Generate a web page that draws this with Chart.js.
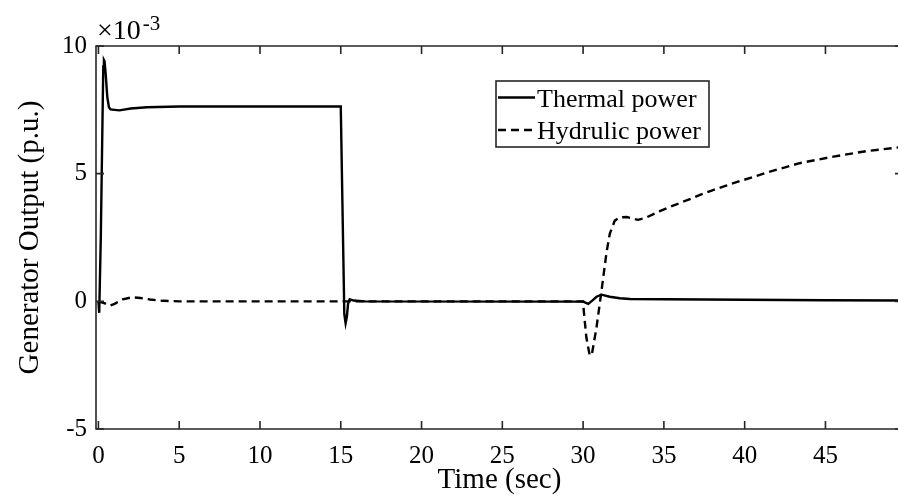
<!DOCTYPE html>
<html>
<head>
<meta charset="utf-8">
<script src="https://cdn.jsdelivr.net/npm/chart.js@4.4.1/dist/chart.umd.min.js"></script>
<style>
  html, body { margin: 0; padding: 0; background: #fff; overflow: hidden; }
  #wrap { width: 898px; height: 498px; overflow: hidden; position: relative; }
  canvas { display: block; }
</style>
</head>
<body>
<div id="wrap"><canvas id="c" width="906" height="498"></canvas></div>
<script>
// ---- Data (values in units of 1e-3 p.u.) ----
const xTicks = [0, 5, 10, 15, 20, 25, 30, 35, 40, 45];
const yTicks = [-5, 0, 5, 10];
const yExponentLabel = ['\u00d710', '-3'];

const thermalLabel = 'Thermal power';
const thermalTime = [0, 0.05, 0.15, 0.3, 0.34, 0.38, 0.45, 0.55, 0.65, 0.75, 1.0, 1.3, 2, 3, 5, 15.0, 15.22, 15.3, 15.38, 15.45, 15.55, 15.8, 16.5, 30.0, 30.32, 30.6, 30.83, 31.14, 31.65, 32.27, 32.9, 35, 40, 45, 49.8];
const thermalValue = [0, -0.45, 2.6, 9.2, 9.45, 9.4, 8.9, 8.0, 7.6, 7.52, 7.5, 7.48, 7.55, 7.6, 7.63, 7.63, -0.5, -0.86, -0.6, -0.1, 0.08, 0.03, 0, -0.01, -0.1, 0.05, 0.18, 0.26, 0.18, 0.12, 0.09, 0.08, 0.06, 0.04, 0.03];

const hydroLabel = 'Hydrulic power';
const hydroTime = [0, 0.4, 0.7, 1.0, 1.5, 2.1, 2.6, 3.2, 4, 5, 30.0, 30.04, 30.2, 30.41, 30.55, 30.83, 31.14, 31.45, 31.65, 31.96, 32.27, 32.7, 33.4, 33.9, 34.75, 35.57, 36.4, 37.2, 38.0, 38.9, 39.7, 40.5, 41.35, 43.4, 45.5, 47.5, 49.8];
const hydroValue = [0, -0.08, -0.17, -0.1, 0.08, 0.16, 0.13, 0.07, 0.02, 0, 0, -0.36, -1.41, -2.13, -2.05, -1.02, 0.42, 1.92, 2.64, 3.16, 3.29, 3.3, 3.19, 3.28, 3.53, 3.75, 3.95, 4.16, 4.35, 4.54, 4.71, 4.86, 5.04, 5.41, 5.67, 5.88, 6.05];

const xTitle = 'Time (sec)';
const yTitle = 'Generator Output (p.u.)';

// ---- Styles ----
const SERIF = '"Liberation Serif", "Times New Roman", serif';
const AXIS = '#262626';

function pts(t, v) { return t.map((x, i) => ({ x: x, y: v[i] })); }

const boxPlugin = {
  id: 'matlabBox',
  afterDatasetsDraw(chart) {
    const { ctx, chartArea: a, scales: { x, y } } = chart;
    const tl = 8;
    ctx.save();
    ctx.strokeStyle = AXIS;
    ctx.lineWidth = 1.6;
    ctx.beginPath();
    ctx.rect(a.left, a.top, a.right - a.left, a.bottom - a.top);
    ctx.stroke();
    ctx.beginPath();
    xTicks.forEach(v => {
      const px = x.getPixelForValue(v);
      ctx.moveTo(px, a.bottom); ctx.lineTo(px, a.bottom - tl);
      ctx.moveTo(px, a.top); ctx.lineTo(px, a.top + tl);
    });
    yTicks.forEach(v => {
      const py = y.getPixelForValue(v);
      ctx.moveTo(a.left, py); ctx.lineTo(a.left + tl, py);
      ctx.moveTo(a.right, py); ctx.lineTo(a.right - tl, py);
    });
    ctx.stroke();

    // exponent label
    ctx.fillStyle = '#000';
    ctx.textAlign = 'left';
    ctx.textBaseline = 'alphabetic';
    ctx.font = '28px ' + SERIF;
    ctx.fillText(yExponentLabel[0], a.left + 1, 39);
    const w = ctx.measureText(yExponentLabel[0]).width;
    ctx.font = '21px ' + SERIF;
    ctx.fillText(yExponentLabel[1], a.left + 1 + w + 2, 30);

    // legend
    const lx = 496, ly = 81, lw = 213, lh = 66;
    ctx.fillStyle = '#fff';
    ctx.fillRect(lx, ly, lw, lh);
    ctx.strokeStyle = AXIS;
    ctx.lineWidth = 1.6;
    ctx.strokeRect(lx, ly, lw, lh);
    const rows = [97.5, 130];
    chart.data.datasets.forEach((ds, i) => {
      ctx.save();
      ctx.strokeStyle = ds.borderColor;
      ctx.lineWidth = ds.borderWidth;
      ctx.setLineDash(ds.borderDash || []);
      ctx.beginPath();
      ctx.moveTo(lx + 2, rows[i]);
      ctx.lineTo(lx + 39, rows[i]);
      ctx.stroke();
      ctx.restore();
      ctx.fillStyle = '#000';
      ctx.font = '26px ' + SERIF;
      ctx.textAlign = 'left';
      ctx.textBaseline = 'alphabetic';
      ctx.fillText(ds.label, lx + 41, rows[i] + 9);
    });
    ctx.restore();
  }
};

new Chart(document.getElementById('c'), {
  type: 'line',
  data: {
    datasets: [
      { label: thermalLabel, data: pts(thermalTime, thermalValue), borderColor: '#000', borderWidth: 2.4, pointRadius: 0, tension: 0, fill: false },
      { label: hydroLabel, data: pts(hydroTime, hydroValue), borderColor: '#000', borderWidth: 2.4, borderDash: [8, 5], pointRadius: 0, tension: 0, fill: false }
    ]
  },
  options: {
    responsive: false,
    animation: false,
    events: [],
    layout: { padding: { left: 0, top: 46, right: 3, bottom: 0 } },
    plugins: { legend: { display: false }, tooltip: { enabled: false } },
    scales: {
      x: {
        type: 'linear', min: -0.15, max: 49.8,
        afterBuildTicks: s => { s.ticks = xTicks.map(v => ({ value: v })); },
        afterFit: s => { s.height = 69; },
        grid: { display: false, drawTicks: false },
        border: { display: false },
        ticks: { color: '#000', font: { family: SERIF, size: 25 }, padding: 12, maxRotation: 0, autoSkip: false },
        title: { display: true, text: xTitle, color: '#000', font: { family: SERIF, size: 29 }, padding: { top: 0, bottom: 0 } }
      },
      y: {
        type: 'linear', min: -5, max: 10,
        afterBuildTicks: s => { s.ticks = yTicks.map(v => ({ value: v })); },
        afterFit: s => { s.width = 96; },
        grid: { display: false, drawTicks: false },
        border: { display: false },
        ticks: { color: '#000', font: { family: SERIF, size: 25 }, padding: 9, autoSkip: false },
        title: { display: true, text: yTitle, color: '#000', font: { family: SERIF, size: 29 }, padding: { top: 12.6, bottom: 0 } }
      }
    }
  },
  plugins: [boxPlugin]
});
</script>
</body>
</html>
